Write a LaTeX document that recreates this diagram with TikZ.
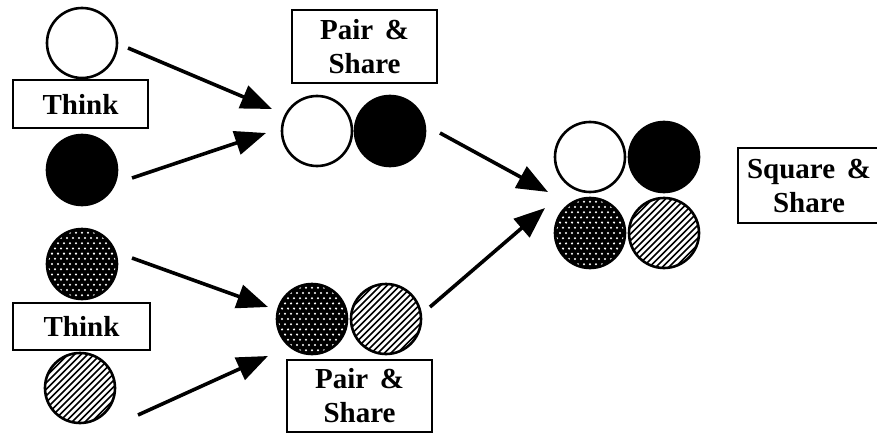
\documentclass[tikz,border=0pt]{standalone}
\usepackage{fontspec}
\setmainfont{Liberation Serif}
\usetikzlibrary{arrows.meta}

\tikzset{
  disc/.style={circle, draw=black, line width=2.6pt, minimum size=70pt,
    inner sep=0pt, outer sep=0pt},
  whitedisc/.style={disc, fill=white},
  blackdisc/.style={disc, fill=black},
  dotdisc/.style={disc, fill=black, path picture={
    \foreach \j in {-8,...,8} \foreach \i in {-10,...,10} {
      \fill[white] ([shift={(\i*6+\j*3,\j*5.2)}]path picture bounding box.center)
        circle (1.15);
    }}},
  hatchdisc/.style={disc, fill=white, path picture={
    \foreach \k in {-22,...,22} {
      \draw[black, line width=1.7pt]
        ([shift={(\k*6.5-60,60)}]path picture bounding box.center) -- ++(120,-120);
    }}},
  label box/.style={draw=black, line width=2.6pt, fill=white, inner sep=0pt,
    align=center, font=\bfseries\fontsize{29}{34}\selectfont},
  flow/.style={line width=3.6pt,
    -{Triangle[length=31pt, width=24pt]}},
}

\begin{document}
\begin{tikzpicture}[x=1pt, y=-1pt]
  \useasboundingbox (0,0) rectangle (877,433);
  \clip (0,0) rectangle (877,433);

  % individual thinkers, upper pair
  \node[whitedisc] (w1) at (82,43) {};
  \node[label box, minimum width=135pt, minimum height=48pt] (think1)
    at (80.5,104) {Think};
  \node[blackdisc] (b1) at (82,170) {};

  % individual thinkers, lower pair
  \node[dotdisc] (d1) at (82,264) {};
  \node[label box, minimum width=137pt, minimum height=47pt] (think2)
    at (81.5,326.5) {Think};
  \node[hatchdisc] (h1) at (80,388) {};

  % pairs
  \node[label box, minimum width=145pt, minimum height=73pt] (pair1)
    at (364.5,46.5) {Pair\hspace{0.4em}\&\\Share};
  \node[whitedisc] (w2) at (317,131) {};
  \node[blackdisc] (b2) at (390,131) {};

  \node[dotdisc] (d2) at (312,319) {};
  \node[hatchdisc] (h2) at (386,319) {};
  \node[label box, minimum width=145pt, minimum height=72pt] (pair2)
    at (359.5,396) {Pair\hspace{0.4em}\&\\Share};

  % square of four
  \node[whitedisc] (w3) at (590,157) {};
  \node[blackdisc] (b3) at (664,157) {};
  \node[dotdisc] (d3) at (590,233) {};
  \node[hatchdisc] (h3) at (664,233) {};
  \node[label box, minimum width=142pt, minimum height=75pt] (square)
    at (809,185.5) {Square\hspace{0.4em}\&\\Share};

  % arrow end points
  \coordinate (s1) at (128,48);   \coordinate (e1) at (272,109);
  \coordinate (s2) at (132,178);  \coordinate (e2) at (266,133);
  \coordinate (s3) at (132,258);  \coordinate (e3) at (268,307);
  \coordinate (s4) at (138,415);  \coordinate (e4) at (268,356);
  \coordinate (s5) at (440,133);  \coordinate (e5) at (548,192);
  \coordinate (s6) at (430,307);  \coordinate (e6) at (545,208);

  \draw[flow] (s1) -- (e1);
  \draw[flow] (s2) -- (e2);
  \draw[flow] (s3) -- (e3);
  \draw[flow] (s4) -- (e4);
  \draw[flow] (s5) -- (e5);
  \draw[flow] (s6) -- (e6);
\end{tikzpicture}
\end{document}
